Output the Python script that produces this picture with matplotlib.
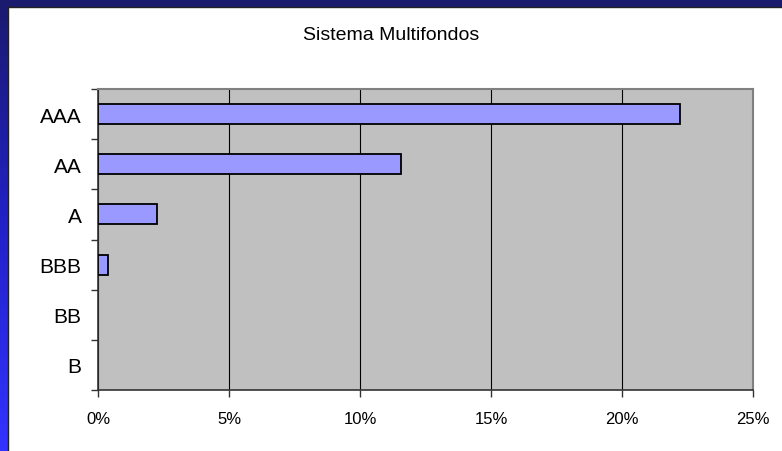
import numpy as np
import matplotlib.pyplot as plt
from matplotlib.colors import LinearSegmentedColormap
from matplotlib.ticker import FixedLocator, PercentFormatter

plt.rcParams['font.family'] = ['Liberation Sans', 'DejaVu Sans']

# data
ratings = ["AAA", "AA", "A", "BBB", "BB", "B"]
shares = [22.2, 11.55, 2.25, 0.38, 0.0, 0.0]
title = "Sistema Multifondos"

fig = plt.figure(figsize=(7.82, 4.52), dpi=100)
fig.patch.set_facecolor("white")

# blue frame (left and top strips)
grad = np.linspace(0, 1, 256).reshape(-1, 1)
cm = LinearSegmentedColormap.from_list("frame", ["#1a1a6e", "#2222c8", "#3333ff"])
axl = fig.add_axes([0, 0, 8 / 782, 1])
axl.imshow(grad, aspect="auto", cmap=cm, extent=[0, 1, 1, 0])
axl.axis("off")
axt = fig.add_axes([0, 1 - 8 / 452, 1, 8 / 452])
axt.set_facecolor("#1a1a6e")
axt.set_xticks([])
axt.set_yticks([])
for s in axt.spines.values():
    s.set_visible(False)
fig.add_artist(plt.Line2D([8 / 782, 8 / 782], [0, 1 - 8 / 452], color="#222222", lw=1))
fig.add_artist(plt.Line2D([8 / 782, 1], [1 - 8 / 452, 1 - 8 / 452], color="#222222", lw=1))

ax = fig.add_axes([98 / 782, 1 - 391 / 452, 655 / 782, 301 / 452])
ax.set_facecolor("#c0c0c0")
y = np.arange(len(ratings))[::-1]
edges = ["black" if v > 0 else "none" for v in shares]
ax.barh(y, shares, height=0.4, color="#9999ff", edgecolor=edges, linewidth=1.3, zorder=3)

ax.set_xlim(0, 25)
ax.set_ylim(-0.5, len(ratings) - 0.5)
ax.xaxis.set_major_locator(FixedLocator([0, 5, 10, 15, 20, 25]))
ax.xaxis.set_major_formatter(PercentFormatter(decimals=0))
ax.grid(axis="x", color="black", linewidth=0.8, zorder=1)

ax.set_yticks(y)
ax.set_yticklabels(ratings, fontsize=15)
ax.set_yticks(np.arange(-0.5, len(ratings), 1), minor=True)
ax.tick_params(axis="y", which="major", length=0, pad=12)
ax.tick_params(axis="y", which="minor", length=5, width=1, direction="out", color="#333333")
ax.tick_params(axis="x", length=5, width=1, direction="out", color="#333333", pad=10, labelsize=12)

for s in ["left", "bottom"]:
    ax.spines[s].set_color("#333333")
    ax.spines[s].set_linewidth(1.2)
for s in ["top", "right"]:
    ax.spines[s].set_color("#808080")
    ax.spines[s].set_linewidth(1.5)

fig.text(391 / 782, 1 - 35 / 452, title, ha="center", va="center", fontsize=14)

fig.savefig("out.png", dpi=100)
